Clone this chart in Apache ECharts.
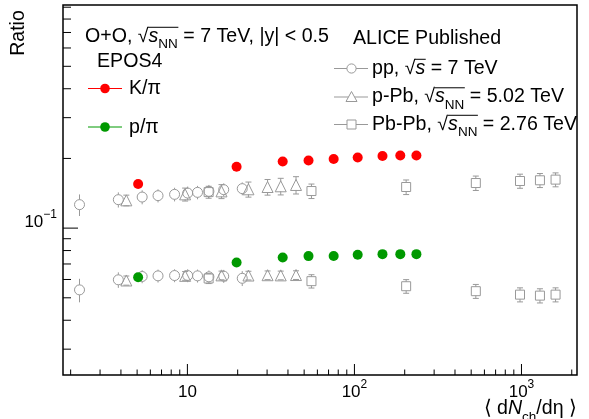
<!DOCTYPE html>
<html>
<head>
<meta charset="utf-8">
<script src="https://cdn.jsdelivr.net/npm/echarts@6/dist/echarts.min.js"></script>
<style>
  html, body { margin: 0; padding: 0; background: #fff; }
  #chart { width: 589px; height: 419px; }
</style>
</head>
<body>
<div id="chart"></div>
<script>
// EPOS4 O+O
const eposX = [5.07, 19.7, 37.2, 53.1, 75.1, 104.6, 147.2, 188.2, 235];
const eposKpi = [0.155, 0.184, 0.194, 0.196, 0.199, 0.202, 0.205, 0.206, 0.206];
const eposPpi = [0.0613, 0.0710, 0.0747, 0.0757, 0.0758, 0.0767, 0.0772, 0.0772, 0.0772];

// ALICE pp 7 TeV
const ppX = [2.26, 3.86, 5.36, 6.67, 8.38, 10.04, 11.5, 13.45, 16.5, 21.3];
const ppKpi = [0.1263, 0.1327, 0.1362, 0.1381, 0.1399, 0.1417, 0.1427, 0.1441, 0.1466, 0.1481];
const ppKpiErr = [0.0135, 0.0100, 0.0095, 0.0090, 0.0095, 0.0095, 0.0095, 0.0095, 0.0095, 0.0095];
const ppPpi = [0.0541, 0.0598, 0.0618, 0.0622, 0.0624, 0.0624, 0.0622, 0.0616, 0.0620, 0.0607];
const ppPpiErr = [0.0063, 0.0046, 0.0040, 0.0040, 0.0040, 0.0040, 0.0040, 0.0040, 0.0040, 0.0045];

// ALICE p-Pb 5.02 TeV
const pPbX = [4.31, 9.69, 16.0, 23.2, 30.2, 36.2, 44.7];
const pPbKpi = [0.1318, 0.1399, 0.1441, 0.1471, 0.1505, 0.1516, 0.1536];
const pPbKpiErr = [0.0070, 0.0090, 0.0100, 0.0110, 0.0117, 0.0125, 0.0132];
const pPbPpi = [0.0594, 0.0622, 0.0625, 0.0624, 0.0626, 0.0625, 0.0627];
const pPbPpiErr = [0.0027, 0.0027, 0.0027, 0.0027, 0.0027, 0.0027, 0.0027];

// ALICE Pb-Pb 2.76 TeV
const PbPbX = [13.4, 55.3, 204, 533, 980, 1290, 1600];
const PbPbKpi = [0.1431, 0.1446, 0.1505, 0.1566, 0.1598, 0.1609, 0.1620];
const PbPbKpiErr = [0.0085, 0.0104, 0.0109, 0.0112, 0.0112, 0.0112, 0.0112];
const PbPbPpi = [0.0606, 0.0590, 0.0561, 0.0534, 0.0516, 0.0511, 0.0516];
const PbPbPpiErr = [0.0030, 0.0039, 0.0038, 0.0037, 0.0036, 0.0036, 0.0036];

// axis ticks
const xMajorTicks = [10, 100, 1000];
const xMinorTicks = [2, 3, 4, 5, 6, 7, 8, 9, 20, 30, 40, 50, 60, 70, 80, 90,
  200, 300, 400, 500, 600, 700, 800, 900, 2000];
const yMajorTicks = [0.1];
const yMinorTicks = [0.03, 0.04, 0.05, 0.06, 0.07, 0.08, 0.09, 0.2, 0.3, 0.4, 0.5, 0.6, 0.7, 0.8, 0.9];

const xMin = 1.8, xMax = 2150;
const yMin = 0.0232, yMax = 0.92;

const FONT = 'Liberation Sans, Arial, Helvetica, sans-serif';
const FS = 19.6;
const SUBFS = 13.5;
const GRAY = '#999999';

const chart = echarts.init(document.getElementById('chart'));

// text measuring, used to place the overline of the square roots
const mctx = document.createElement('canvas').getContext('2d');
function tw(str, size, style) {
  mctx.font = (style ? style + ' ' : '') + size + 'px ' + FONT;
  return mctx.measureText(str).width;
}

function isPow10(v) {
  const l = Math.log10(v);
  return Math.abs(l - Math.round(l)) < 1e-6;
}

function tickSeries(vals, isX, len) {
  return {
    type: 'custom',
    silent: true,
    z: 5,
    data: vals.map(v => isX ? [v, yMin] : [xMin, v]),
    renderItem: (params, api) => {
      const c = api.coord([api.value(0), api.value(1)]);
      const shape = isX
        ? { x1: c[0], y1: c[1], x2: c[0], y2: c[1] - len }
        : { x1: c[0], y1: c[1], x2: c[0] + len, y2: c[1] };
      return { type: 'line', shape: shape, style: { stroke: '#000', lineWidth: 1 } };
    }
  };
}

function errSeries(xs, ys, es, caps, gap) {
  return {
    type: 'custom',
    silent: true,
    z: 2,
    data: xs.map((x, i) => [x, ys[i], es[i]]),
    encode: { x: 0, y: 1 },
    renderItem: (params, api) => {
      const x = api.value(0), y = api.value(1), e = api.value(2);
      const c = api.coord([x, y]);
      const t = api.coord([x, y + e]);
      const b = api.coord([x, y - e]);
      const st = { stroke: GRAY, lineWidth: 1 };
      const ch = [];
      if (t[1] < c[1] - gap) ch.push({ type: 'line', shape: { x1: c[0], y1: c[1] - gap, x2: c[0], y2: t[1] }, style: st });
      if (b[1] > c[1] + gap) ch.push({ type: 'line', shape: { x1: c[0], y1: c[1] + gap, x2: c[0], y2: b[1] }, style: st });
      if (caps) {
        ch.push({ type: 'line', shape: { x1: c[0] - 3, y1: t[1], x2: c[0] + 3, y2: t[1] }, style: st });
        ch.push({ type: 'line', shape: { x1: c[0] - 3, y1: b[1], x2: c[0] + 3, y2: b[1] }, style: st });
      }
      return { type: 'group', children: ch };
    }
  };
}

function openSeries(xs, ys, symbol, size) {
  return {
    type: 'scatter',
    symbol: symbol,
    symbolSize: size,
    z: 3,
    data: xs.map((x, i) => [x, ys[i]]),
    itemStyle: { color: 'rgba(0,0,0,0)', borderColor: GRAY, borderWidth: 1, opacity: 1 }
  };
}

function fullSeries(xs, ys, color) {
  return {
    type: 'scatter',
    symbol: 'circle',
    symbolSize: 10,
    z: 4,
    data: xs.map((x, i) => [x, ys[i]]),
    itemStyle: { color: color, opacity: 1 }
  };
}

const labelRich = {
  b: { fontSize: 17, lineHeight: 35, fontFamily: FONT, color: '#000' },
  s: { fontSize: 12, lineHeight: 20, padding: [0, 0, 15, 0], fontFamily: FONT, color: '#000' }
};

const textRich = {
  r: { fontSize: FS, fontFamily: FONT, fill: '#000' },
  i: { fontSize: FS, fontStyle: 'italic', fontFamily: FONT, fill: '#000' },
  sub: { fontSize: SUBFS, padding: [16, 0, 0, 0], fontFamily: FONT, fill: '#000' }
};

function txt(x, y, s, align) {
  return {
    type: 'text',
    x: x, y: y,
    style: {
      text: s,
      fontSize: FS,
      fontFamily: FONT,
      fill: '#000',
      align: align || 'left',
      verticalAlign: 'middle',
      rich: textRich
    }
  };
}

function hline(x1, x2, y, color) {
  return { type: 'line', shape: { x1: x1, y1: y, x2: x2, y2: y }, style: { stroke: color, lineWidth: 1 } };
}

// overline over "s" (and "NN") after a radical that follows the prefix
function rootBar(x, y, prefix, withNN) {
  const x1 = x + tw(prefix, FS) + tw('\u221A', FS) - 0.5;
  const x2 = x1 + 0.5 + tw('s', FS, 'italic') + (withNN ? tw('NN', SUBFS) : 0) + 0.5;
  const yy = y - 0.47 * FS;
  return { type: 'line', shape: { x1: x1, y1: yy, x2: x2, y2: yy }, style: { stroke: '#000', lineWidth: 1 } };
}

const graphic = [
  {
    type: 'text', x: 19, y: 33, rotation: Math.PI / 2,
    style: { text: 'Ratio', fontSize: FS, fontFamily: FONT, fill: '#000', align: 'center', verticalAlign: 'middle' }
  },
  txt(577, 409, '\u27E8 d{i|N}{sub|ch}/d\u03B7 \u27E9', 'right'),
  txt(85, 36.5, 'O+O, {r|\u221A}{i|s}{sub|NN} = 7 TeV, |y| < 0.5'),
  rootBar(85, 36.5, 'O+O, ', true),
  txt(97, 62, 'EPOS4'),
  hline(88, 122, 88.5, '#ff0000'),
  { type: 'circle', shape: { cx: 105, cy: 88.5, r: 4.8 }, style: { fill: '#ff0000' } },
  txt(129, 89, 'K/\u03C0'),
  hline(88, 122, 127, '#009900'),
  { type: 'circle', shape: { cx: 105, cy: 127, r: 4.8 }, style: { fill: '#009900' } },
  txt(129, 127.5, 'p/\u03C0'),
  txt(353, 38.5, 'ALICE Published'),
  hline(334, 368, 68.5, GRAY),
  { type: 'circle', shape: { cx: 351.5, cy: 68.5, r: 4.6 }, style: { fill: '#fff', stroke: GRAY, lineWidth: 1 } },
  txt(372, 68.5, 'pp, {r|\u221A}{i|s} = 7 TeV'),
  rootBar(372, 68.5, 'pp, ', false),
  hline(334, 368, 97, GRAY),
  { type: 'polygon', shape: { points: [[351.5, 91.5], [346, 101.5], [357, 101.5]] }, style: { fill: '#fff', stroke: GRAY, lineWidth: 1 } },
  txt(372, 97, 'p-Pb, {r|\u221A}{i|s}{sub|NN} = 5.02 TeV'),
  rootBar(372, 97, 'p-Pb, ', true),
  hline(334, 368, 124.5, GRAY),
  { type: 'rect', shape: { x: 347, y: 120, width: 9, height: 9 }, style: { fill: '#fff', stroke: GRAY, lineWidth: 1 } },
  txt(372, 124.5, 'Pb-Pb, {r|\u221A}{i|s}{sub|NN} = 2.76 TeV'),
  rootBar(372, 124.5, 'Pb-Pb, ', true)
];

const option = {
  animation: false,
  backgroundColor: '#fff',
  grid: {
    left: 63, right: 12, top: 5, bottom: 44,
    show: true, borderColor: '#000', borderWidth: 1.5, backgroundColor: 'transparent'
  },
  xAxis: {
    type: 'log',
    logBase: 10,
    min: xMin,
    max: xMax,
    axisLine: { show: false },
    axisTick: { show: false },
    splitLine: { show: false },
    minorTick: { show: false },
    axisLabel: {
      margin: 0,
      formatter: v => {
        if (!isPow10(v)) return '';
        const p = Math.round(Math.log10(v));
        return p === 1 ? '{b|10}' : '{b|10}{s|' + p + '}';
      },
      rich: labelRich
    }
  },
  yAxis: {
    type: 'log',
    logBase: 10,
    min: yMin,
    max: yMax,
    axisLine: { show: false },
    axisTick: { show: false },
    splitLine: { show: false },
    minorTick: { show: false },
    axisLabel: {
      margin: 6,
      padding: [0, 0, 12, 0],
      formatter: v => {
        if (!isPow10(v)) return '';
        const p = Math.round(Math.log10(v));
        return '{b|10}{s|' + (p < 0 ? '\u2212' + (-p) : p) + '}';
      },
      rich: labelRich
    }
  },
  graphic: graphic,
  series: [
    tickSeries(xMajorTicks, true, 11),
    tickSeries(xMinorTicks, true, 5.5),
    tickSeries(yMajorTicks, false, 15),
    tickSeries(yMinorTicks, false, 8),

    errSeries(ppX, ppKpi, ppKpiErr, false, 5),
    errSeries(ppX, ppPpi, ppPpiErr, false, 5),
    errSeries(pPbX, pPbKpi, pPbKpiErr, true, 5),
    errSeries(pPbX, pPbPpi, pPbPpiErr, true, 5),
    errSeries(PbPbX, PbPbKpi, PbPbKpiErr, true, 4.5),
    errSeries(PbPbX, PbPbPpi, PbPbPpiErr, true, 4.5),

    openSeries(ppX, ppKpi, 'circle', 10),
    openSeries(ppX, ppPpi, 'circle', 10),
    openSeries(pPbX, pPbKpi, 'triangle', 11),
    openSeries(pPbX, pPbPpi, 'triangle', 11),
    openSeries(PbPbX, PbPbKpi, 'rect', 9),
    openSeries(PbPbX, PbPbPpi, 'rect', 9),

    fullSeries(eposX, eposKpi, '#ff0000'),
    fullSeries(eposX, eposPpi, '#009900')
  ]
};

chart.setOption(option);
</script>
</body>
</html>
